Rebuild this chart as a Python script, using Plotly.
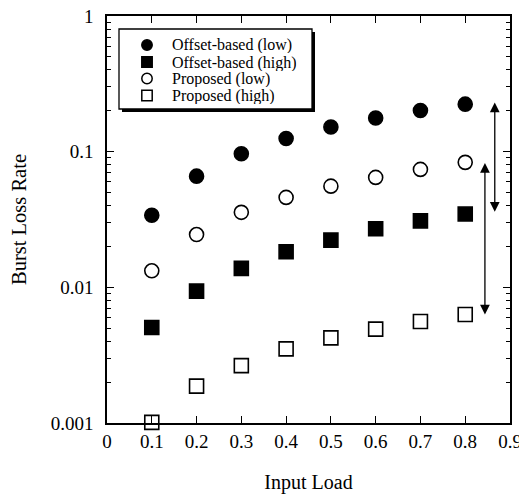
import math
import plotly.graph_objects as go

loads = [0.1, 0.2, 0.3, 0.4, 0.5, 0.6, 0.7, 0.8]
offset_low = [0.034, 0.066, 0.0966, 0.125, 0.152, 0.177, 0.201, 0.224]
offset_high = [0.00506, 0.00937, 0.0138, 0.0183, 0.0223, 0.027, 0.0309, 0.0347]
proposed_low = [0.01324, 0.0245, 0.0357, 0.046, 0.0557, 0.0646, 0.074, 0.0834]
proposed_high = [0.00101, 0.00187, 0.00265, 0.00352, 0.00424, 0.00492, 0.0056, 0.0063]

series_names = ["Offset-based (low)", "Offset-based (high)", "Proposed (low)", "Proposed (high)"]

# double-headed arrows: (x, top value, bottom value)
arrows = [(0.866, 0.23, 0.0352), (0.844, 0.0824, 0.00614)]

x_ticks = [0, 0.1, 0.2, 0.3, 0.4, 0.5, 0.6, 0.7, 0.8, 0.9]
x_ticklabels = ["0", "0.1", "0.2", "0.3", "0.4", "0.5", "0.6", "0.7", "0.8", "0.9"]
y_ticks = [0.001, 0.01, 0.1, 1]
y_ticklabels = ["0.001", "0.01", "0.1", "1"]
y_minor = [m * 10 ** e for e in (-3, -2, -1) for m in range(2, 10)]

FONT = "Liberation Serif, Times New Roman, serif"
OFF = 8  # default page body margin
W, H = 527 - OFF, 494 - OFF
ML, MR, MT, MB = 107 - OFF, 17, 16 - OFF, 71
PW, PH = W - ML - MR, H - MT - MB


def px(xp):
    return (xp - OFF - ML) / PW


def py(yp):
    return (H - MB - (yp - OFF)) / PH


fig = go.Figure()
symbols = ["circle", "square", "circle-open", "square-open"]
for name, ys, sym in zip(series_names, [offset_low, offset_high, proposed_low, proposed_high], symbols):
    fig.add_trace(go.Scatter(
        x=loads, y=ys, mode="markers", name=name, showlegend=False,
        cliponaxis=False,
        marker=dict(symbol=sym, size=14, color="black",
                    line=dict(color="black", width=1.6)),
    ))

for xa, top, bot in arrows:
    fig.add_annotation(
        x=xa, y=math.log10(top), ax=xa, ay=math.log10(bot),
        xref="x", yref="y", axref="x", ayref="y",
        showarrow=True, arrowhead=2, arrowside="end+start", arrowsize=1.5,
        arrowwidth=1.3, arrowcolor="black", text="",
    )

axis_common = dict(
    showline=True, linecolor="black", linewidth=1.5, mirror="ticks",
    ticks="inside", ticklen=7, tickwidth=1.2, tickcolor="black",
    showgrid=False, zeroline=False, automargin=False,
    ticklabeloverflow="allow",
    tickfont=dict(family=FONT, size=19, color="black"),
)

fig.update_xaxes(
    range=[0, 0.9], tickvals=x_ticks, ticktext=x_ticklabels,
    title=dict(text="Input Load", font=dict(family=FONT, size=20, color="black"), standoff=28),
    **axis_common,
)
fig.update_yaxes(
    type="log", range=[-3, 0], tickvals=y_ticks, ticktext=y_ticklabels,
    ticklabelstandoff=8,
    minor=dict(tickvals=y_minor, ticks="inside", ticklen=4, tickcolor="black", tickwidth=1),
    title=dict(text="Burst Loss Rate", font=dict(family=FONT, size=20.5, color="black"), standoff=22),
    **axis_common,
)

# hand-drawn legend (box with drop shadow)
lx0, ly0, lx1, ly1 = 119, 29, 312, 109
fig.add_shape(type="rect", xref="paper", yref="paper",
              x0=px(lx0 + 3), x1=px(lx1 + 3), y0=py(ly1 + 3), y1=py(ly0 + 3),
              fillcolor="black", line=dict(width=0), layer="above")
fig.add_shape(type="rect", xref="paper", yref="paper",
              x0=px(lx0), x1=px(lx1), y0=py(ly1), y1=py(ly0),
              fillcolor="white", line=dict(color="black", width=1.3), layer="above")
rows = [45, 62, 78.5, 95.5]
mx, r = 147, 5.2
for name, sym, ry in zip(series_names, symbols, rows):
    filled = not sym.endswith("open")
    shape_type = "circle" if sym.startswith("circle") else "rect"
    fig.add_shape(type=shape_type, xref="paper", yref="paper",
                  x0=px(mx - r), x1=px(mx + r), y0=py(ry + r), y1=py(ry - r),
                  fillcolor="black" if filled else "white",
                  line=dict(color="black", width=1.5), layer="above")
    fig.add_annotation(x=px(170), y=py(ry), xref="paper", yref="paper",
                       xanchor="left", yanchor="middle", showarrow=False,
                       height=17, valign="middle",
                       text=name, font=dict(family=FONT, size=16, color="black"))

fig.update_layout(
    width=W, height=H,
    margin=dict(l=ML, r=MR, t=MT, b=MB),
    plot_bgcolor="white", paper_bgcolor="white",
    font=dict(family=FONT, color="black"),
    showlegend=False,
)

fig.write_html("out.html")
